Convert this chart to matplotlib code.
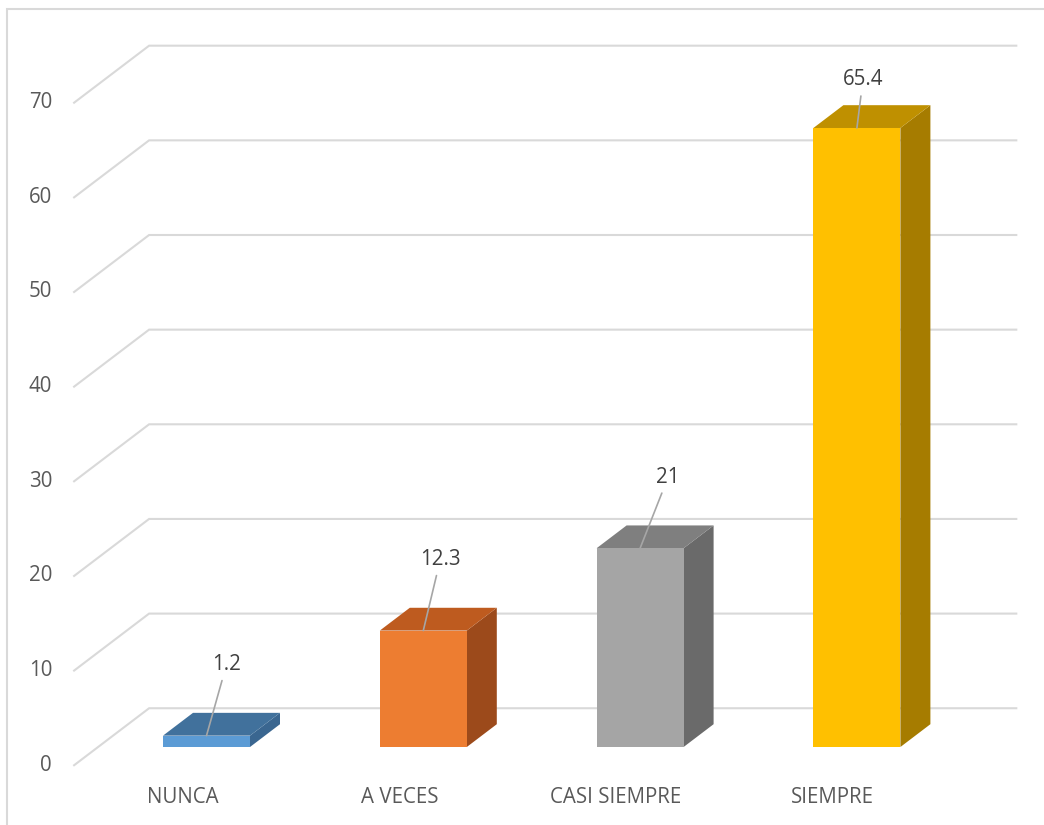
import matplotlib.pyplot as plt
from matplotlib.patches import Polygon, Rectangle

plt.rcParams['font.family'] = ['Open Sans', 'DejaVu Sans']

# data
categorias = ['NUNCA', 'A VECES', 'CASI SIEMPRE', 'SIEMPRE']
valores = [1.2, 12.3, 21, 65.4]
ticks = [0, 10, 20, 30, 40, 50, 60, 70]

# colours: front, top, side
col_front = ['#5B9BD5', '#ED7D31', '#A5A5A5', '#FFC000']
col_top = ['#41719C', '#BE5B1F', '#7F7F7F', '#BF9000']
col_side = ['#3A6690', '#9C4A1B', '#6A6A6A', '#A67C00']

# label offsets in pixels (from bar top front centre)
lab_dx = [20, 17, 28, 6]
lab_dy = [71, 71, 71, 48]

W, H = 1044, 825
PX = 216.8        # pixels per category
PV = 9.465        # pixels per value unit
X0, Y0 = 206.5, 78  # pixel pos of category 0 / value 0 (from bottom)
SLOPE = 0.76
BAR_W = 87 / PX
BAR_D = 30        # depth of bars, px
WALL_D = 51       # depth of back wall, px
FLOOR_D = -24     # front edge of floor, px
FS = 14.8

fig = plt.figure(figsize=(W / 100, H / 100), dpi=100)
ax = fig.add_axes([0, 0, 1, 1])
ax.set_xlim(-X0 / PX, (W - X0) / PX)
ax.set_ylim(-Y0 / PV, (H - Y0) / PV)
ax.axis('off')


def proj(x, y, d):
    # oblique projection: depth d in pixels pushes right and up
    return (x + d / PX, y + d * SLOPE / PV)


grid_c = '#D9D9D9'
for t in ticks:
    p1 = proj(-0.5, t, FLOOR_D)
    p2 = proj(-0.5, t, WALL_D)
    p3 = proj(3.5, t, WALL_D)
    ax.plot([p1[0], p2[0], p3[0]], [p1[1], p2[1], p3[1]], color=grid_c, lw=1.5, zorder=1,
            solid_joinstyle='miter')
    ax.annotate(str(t), p1, xytext=(-22, 0), textcoords='offset pixels', ha='right', va='center',
                fontsize=FS, color='#595959')

for i, (cat, v) in enumerate(zip(categorias, valores)):
    xl, xr = i - BAR_W / 2, i + BAR_W / 2
    front = [(xl, 0), (xr, 0), (xr, v), (xl, v)]
    top = [(xl, v), (xr, v), proj(xr, v, BAR_D), proj(xl, v, BAR_D)]
    side = [(xr, 0), proj(xr, 0, BAR_D), proj(xr, v, BAR_D), (xr, v)]
    ax.add_patch(Polygon(side, closed=True, fc=col_side[i], ec='none', zorder=3))
    ax.add_patch(Polygon(top, closed=True, fc=col_top[i], ec='none', zorder=3))
    ax.add_patch(Polygon(front, closed=True, fc=col_front[i], ec='none', zorder=4))

    # category label
    ax.annotate(cat, proj(i, 0, FLOOR_D), xytext=(0, -32), textcoords='offset pixels',
                ha='center', va='center', fontsize=FS, color='#595959')

    # data label with leader line
    ax.annotate(f'{v:g}', (i, v), xytext=(lab_dx[i], lab_dy[i]), textcoords='offset pixels',
                ha='center', va='center', fontsize=FS, color='#404040', zorder=6,
                arrowprops=dict(arrowstyle='-', color='#A6A6A6', lw=1.2, shrinkA=2, shrinkB=0))

# chart border (top and left visible)
fig.patches.append(Rectangle((7 / W, -0.1), 1.2, (H - 9) / H + 0.1, transform=fig.transFigure,
                             fill=False, ec='#D9D9D9', lw=1.5))

fig.savefig('out.png', dpi=100)
